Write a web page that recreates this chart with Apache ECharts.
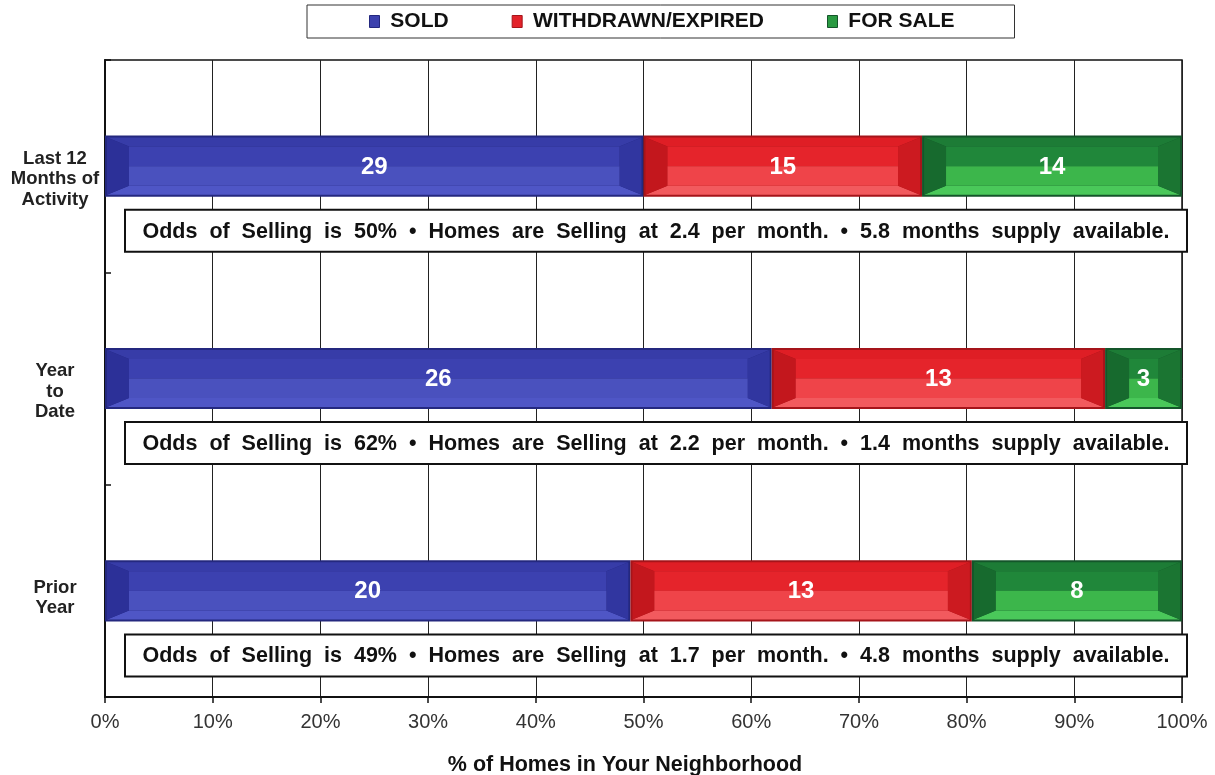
<!DOCTYPE html>
<html>
<head>
<meta charset="utf-8">
<script src="https://cdn.jsdelivr.net/npm/echarts@6/dist/echarts.min.js"></script>
<style>
  html, body { margin: 0; padding: 0; background: #fff; }
  #chart { width: 1215px; height: 775px; }
</style>
</head>
<body>
<div id="chart"></div>
<script>
// Neighborhood activity: counts per period, shown as share of all homes
const categories = ['Last 12\nMonths of\nActivity', 'Year\nto\nDate', 'Prior\nYear'];
const seriesNames = ['SOLD', 'WITHDRAWN/EXPIRED', 'FOR SALE'];
const sold = [29, 26, 20];
const withdrawn = [15, 13, 13];
const forSale = [14, 3, 8];
// Summary line under each bar
const oddsPct = [50, 62, 49];
const perMonth = [2.4, 2.2, 1.7];
const monthsSupply = [5.8, 1.4, 4.8];

const FONT = 'Liberation Sans, Arial, sans-serif';

// Bevel palettes for each status
const palettes = [
  { base: '#3c41ae', edge: '#24287f', top: '#373ca8', left: '#2c3098', right: '#3136a0', bottom: '#4f56c6', cTop: '#3c41b0', cBot: '#4a51be' },
  { base: '#e3222a', edge: '#a5141a', top: '#df1e25', left: '#c3171d', right: '#cc1a20', bottom: '#f25a5e', cTop: '#e5242b', cBot: '#ef4449' },
  { base: '#2a9a42', edge: '#14552a', top: '#1d7c36', left: '#176a2e', right: '#1b7532', bottom: '#4ac85a', cTop: '#20873a', cBot: '#3cb64b' }
];

const counts = [sold, withdrawn, forSale];
const totals = categories.map((_, i) => sold[i] + withdrawn[i] + forSale[i]);

// Each segment: [startPct, endPct, categoryIndex, count]
const segData = counts.map(() => []);
categories.forEach((_, i) => {
  let acc = 0;
  counts.forEach((arr, s) => {
    const pct = arr[i] / totals[i] * 100;
    segData[s].push([acc, acc + pct, i, arr[i]]);
    acc += pct;
  });
});

function bevelBar(pal) {
  return function (params, api) {
    const v0 = api.value(0), v1 = api.value(1), ci = api.value(2), n = api.value(3);
    const p0 = api.coord([v0, ci]);
    const p1 = api.coord([v1, ci]);
    const band = api.size([0, 1])[1];
    const h = band * 0.288;
    const x0 = p0[0], x1 = p1[0], yc = p0[1];
    const y0 = yc - h / 2, y1 = yc + h / 2;
    const e = 2;                       // dark outline
    const ax0 = x0 + e, ax1 = x1 - e, ay0 = y0 + e, ay1 = y1 - e;
    const by = 9;
    const bx = Math.min(22, (ax1 - ax0) / 3);
    const ix0 = ax0 + bx, ix1 = ax1 - bx, iy0 = ay0 + by, iy1 = ay1 - by;
    const ym = (iy0 + iy1) / 2;
    const poly = (pts, fill) => ({ type: 'polygon', shape: { points: pts }, style: { fill: fill } });
    return {
      type: 'group',
      children: [
        { type: 'rect', shape: { x: x0, y: y0, width: x1 - x0, height: h }, style: { fill: pal.edge } },
        poly([[ax0, ay0], [ax1, ay0], [ix1, iy0], [ix0, iy0]], pal.top),
        poly([[ax0, ay1], [ax1, ay1], [ix1, iy1], [ix0, iy1]], pal.bottom),
        poly([[ax0, ay0], [ix0, iy0], [ix0, iy1], [ax0, ay1]], pal.left),
        poly([[ax1, ay0], [ix1, iy0], [ix1, iy1], [ax1, ay1]], pal.right),
        poly([[ix0, iy0], [ix1, iy0], [ix1, ym], [ix0, ym]], pal.cTop),
        poly([[ix0, ym], [ix1, ym], [ix1, iy1], [ix0, iy1]], pal.cBot),
        {
          type: 'text',
          style: {
            text: String(n), x: (x0 + x1) / 2, y: yc + 1,
            align: 'center', verticalAlign: 'middle',
            fill: '#ffffff', fontSize: 24, fontWeight: 'bold', fontFamily: FONT
          }
        }
      ]
    };
  };
}

function noteText(i) {
  return 'Odds  of  Selling  is  ' + oddsPct[i] + '%  \u2022  Homes  are  Selling  at  ' +
    perMonth[i].toFixed(1) + '  per  month.  \u2022  ' + monthsSupply[i].toFixed(1) +
    '  months  supply  available.';
}

function noteBox(params, api) {
  const ci = api.value(2);
  const pl = api.coord([api.value(0), ci]);
  const pr = api.coord([api.value(1), ci]);
  const band = api.size([0, 1])[1];
  const cy = pl[1] + band * 0.304;
  const x0 = pl[0] + 20, x1 = pr[0] + 5, hh = 42;
  return {
    type: 'group',
    children: [
      { type: 'rect', shape: { x: x0, y: cy - hh / 2, width: x1 - x0, height: hh },
        style: { fill: '#ffffff', stroke: '#111', lineWidth: 2 } },
      { type: 'text', style: {
          text: noteText(ci), x: (x0 + x1) / 2, y: cy + 1,
          align: 'center', verticalAlign: 'middle',
          fill: '#111', fontSize: 21.5, fontWeight: 'bold', fontFamily: FONT } }
    ]
  };
}

const chart = echarts.init(document.getElementById('chart'), null, { renderer: 'canvas' });

const series = seriesNames.map((name, s) => ({
  name: name,
  type: 'custom',
  renderItem: bevelBar(palettes[s]),
  encode: { x: [0, 1], y: 2 },
  itemStyle: { color: palettes[s].base },
  data: segData[s],
  z: 3
}));

series.push({
  name: 'notes',
  type: 'custom',
  renderItem: noteBox,
  clip: false,
  encode: { x: [0, 1], y: 2 },
  data: categories.map((_, i) => [0, 100, i]),
  z: 4,
  silent: true
});

chart.setOption({
  animation: false,
  backgroundColor: '#ffffff',
  textStyle: { fontFamily: FONT },
  legend: {
    data: seriesNames.map((n, s) => ({
      name: n, icon: 'rect',
      itemStyle: { color: palettes[s].base, borderColor: palettes[s].edge, borderWidth: 1 }
    })),
    left: 307, top: 5,
    itemWidth: 10, itemHeight: 12, itemGap: 63,
    padding: [6, 60, 6, 62],
    borderColor: '#333', borderWidth: 1,
    formatter: n => ' ' + n,
    textStyle: { fontSize: 21, fontWeight: 'bold', color: '#111', fontFamily: FONT }
  },
  title: {
    text: '% of Homes in Your Neighborhood',
    left: 620, top: 749, textAlign: 'center',
    textStyle: { fontSize: 21.5, fontWeight: 'bold', color: '#111', fontFamily: FONT }
  },
  grid: {
    left: 105, right: 33, top: 60, bottom: 78,
    show: true, borderColor: '#111', borderWidth: 1.5, backgroundColor: 'transparent'
  },
  xAxis: {
    type: 'value', min: 0, max: 100, interval: 10,
    axisLine: { show: true, lineStyle: { color: '#111', width: 2 } },
    axisTick: { show: true, length: 6, lineStyle: { color: '#111', width: 1.5 } },
    axisLabel: { formatter: '{value}%', fontSize: 20, color: '#333', margin: 15, fontFamily: FONT },
    splitLine: { show: true, lineStyle: { color: '#222', width: 1 } }
  },
  yAxis: {
    type: 'category', data: categories, inverse: true,
    axisLine: { show: true, lineStyle: { color: '#111', width: 2 } },
    axisTick: { show: true, inside: true, length: 6, lineStyle: { color: '#111', width: 1.5 } },
    splitLine: { show: false },
    axisLabel: {
      align: 'center', margin: 50,
      formatter: v => (v.split('\n').length > 2 ? '{a|' + v + '}' : '{b|' + v + '}'),
      rich: {
        a: { fontSize: 18.5, fontWeight: 'bold', color: '#222', lineHeight: 20.5, padding: [26, 0, 0, 0], align: 'center', fontFamily: FONT },
        b: { fontSize: 18.5, fontWeight: 'bold', color: '#222', lineHeight: 20.5, padding: [14, 0, 0, 0], align: 'center', fontFamily: FONT }
      }
    }
  },
  series: series
});
</script>
</body>
</html>
